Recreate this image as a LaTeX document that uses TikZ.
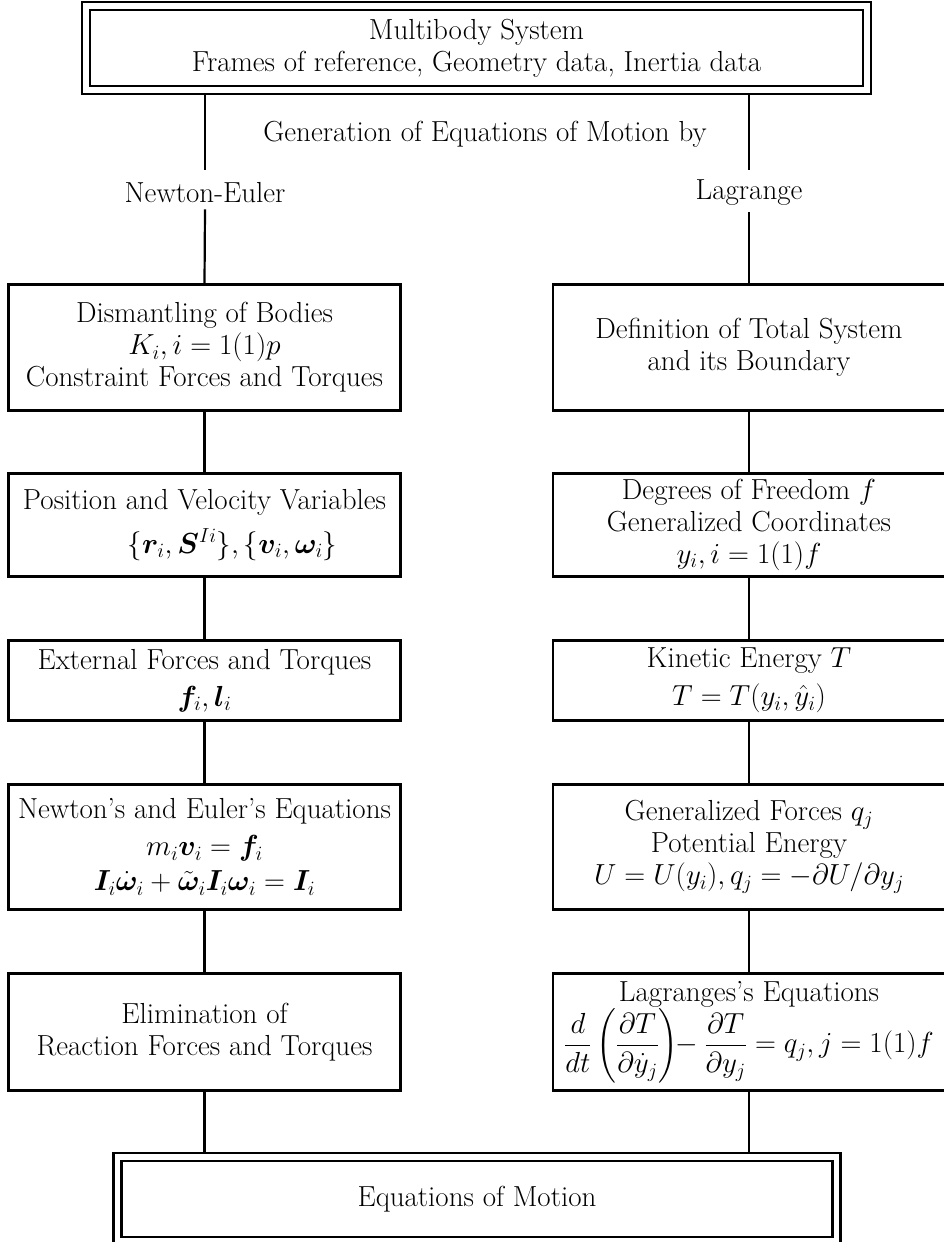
\RequirePackage{fix-cm}
\documentclass[tikz,border=0pt]{standalone}
\usepackage{amsmath,bm}
\newcommand{\bigtxt}{\fontsize{29}{32}\selectfont}
\begin{document}
\begin{tikzpicture}[x=1pt,y=-1pt,
  box/.style={draw, line width=2.4pt, rectangle, align=center, inner sep=0pt, font=\bigtxt},
  dbox/.style={draw, double, line width=2.4pt, double distance=5.6pt, outer sep=5.2pt, rectangle, align=center, inner sep=0pt, font=\bigtxt},
  lbl/.style={align=center, inner sep=6pt, font=\bigtxt},
  conn/.style={line width=2.2pt}]
\useasboundingbox (0,0) rectangle (944,1242);
\clip (0,0) rectangle (944,1242);
% top and bottom
\node[dbox, minimum width=781pt, minimum height=84pt] (top) at (476.5,48)
  {Multibody System\\ Frames of reference, Geometry data, Inertia data};
\node[dbox, minimum width=719pt, minimum height=84pt] (eom) at (477,1199)
  {Equations of Motion};
% labels
\node[lbl] (gen) at (485,134) {Generation of Equations of Motion by};
\node[lbl] (ne) at (205,193) {Newton-Euler};
\node[lbl] (la) at (749,193) {Lagrange};
\coordinate (g1) at (205,170);
\coordinate (g2) at (749,170);
% left column
\node[box, minimum width=392pt, minimum height=126pt] (L1) at (204.5,347.5)
  {Dismantling of Bodies\\ $K_i, i = 1(1)p$\hspace*{44pt}\\ Constraint Forces and Torques};
\node[box, minimum width=392pt, minimum height=103pt] (L2) at (204.5,525)
  {Position and Velocity Variables\\[12pt] \hspace*{56pt}$\{\bm{r}_i,\bm{S}^{Ii}\},\{\bm{v}_i,\bm{\omega}_i\}$};
\node[box, minimum width=392pt, minimum height=80pt] (L3) at (204.5,680.5)
  {External Forces and Torques\\[5pt] $\bm{f}_i,\bm{l}_i$};
\node[box, minimum width=392pt, minimum height=125pt] (L4) at (204.5,847)
  {Newton's and Euler's Equations\\[5pt] $m_i\bm{v}_i = \bm{f}_i$\hspace*{38pt}\\[3pt] $\bm{I}_i\dot{\bm{\omega}}_i + \tilde{\bm{\omega}}_i\bm{I}_i\bm{\omega}_i = \bm{I}_i$};
\node[box, minimum width=392pt, minimum height=117pt] (L5) at (204.5,1032)
  {Elimination of\\ Reaction Forces and Torques};
% right column
\node[box, minimum width=392pt, minimum height=126pt] (R1) at (749,347.5)
  {Definition of Total System\\ and its Boundary};
\node[box, minimum width=392pt, minimum height=103pt] (R2) at (749,525)
  {Degrees of Freedom $f$\\ Generalized Coordinates\\ $y_i, i = 1(1)f$};
\node[box, minimum width=392pt, minimum height=80pt] (R3) at (749,680.5)
  {Kinetic Energy $T$\\[6pt] $T = T(y_i,\hat{y}_i)$};
\node[box, minimum width=392pt, minimum height=125pt] (R4) at (749,847)
  {Generalized Forces $q_j$\\ Potential Energy\\ $U = U(y_i), q_j = -\partial U/\partial y_j$};
\node[box, minimum width=392pt, minimum height=117pt] (R5) at (749,1032)
  {Lagranges's Equations\\ $\dfrac{d}{dt}\left(\dfrac{\partial T}{\partial \dot{y}_j}\right)\!\!-\dfrac{\partial T}{\partial y_j} = q_j, j = 1(1)f$};
% connectors
\draw[conn] (top.south -| g1) -- (g1);
\draw[conn] (top.south -| g2) -- (g2);
\draw[conn] (ne.south) -- (L1.north);
\draw[conn] (la.south) -- (R1.north);
\draw[conn] (L1) -- (L2);
\draw[conn] (L2) -- (L3);
\draw[conn] (L3) -- (L4);
\draw[conn] (L4) -- (L5);
\draw[conn] (R1) -- (R2);
\draw[conn] (R2) -- (R3);
\draw[conn] (R3) -- (R4);
\draw[conn] (R4) -- (R5);
\draw[conn] (L5.south) -- (L5.south |- eom.north);
\draw[conn] (R5.south) -- (R5.south |- eom.north);
\end{tikzpicture}
\end{document}
